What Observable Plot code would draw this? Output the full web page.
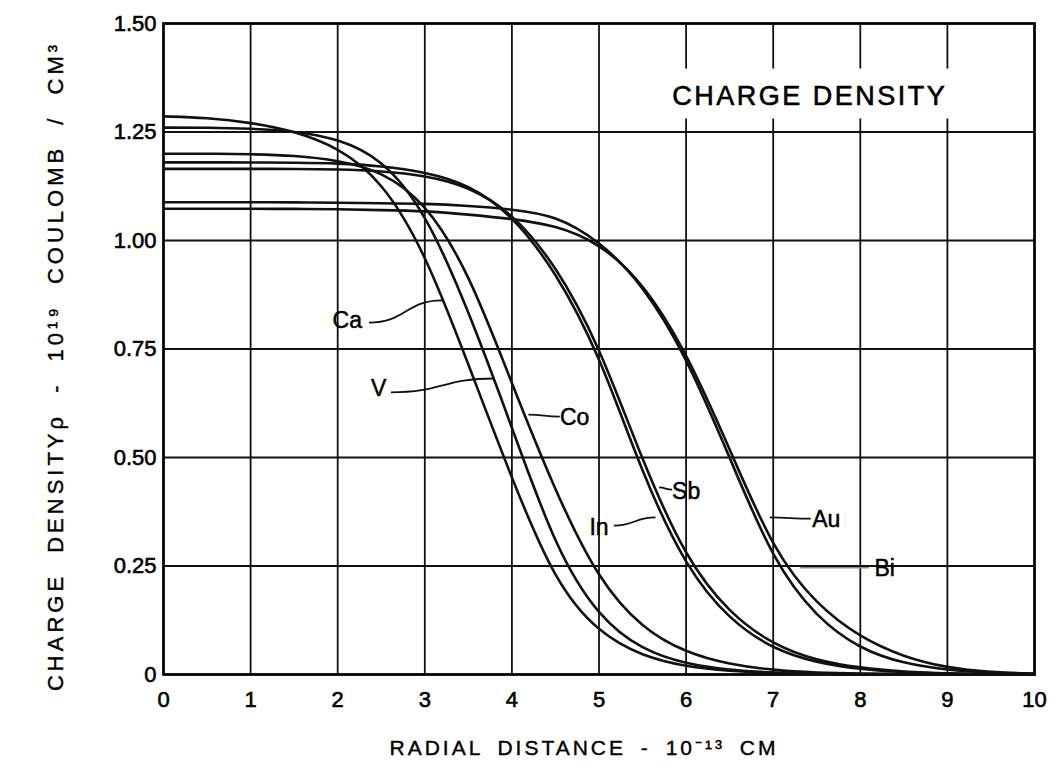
<!DOCTYPE html>
<html>
<head>
<meta charset="utf-8">
<script src="https://cdn.jsdelivr.net/npm/d3@7"></script>
<script src="https://cdn.jsdelivr.net/npm/@observablehq/plot@0.6"></script>
<style>
  body { margin: 0; background: #fff; }
  #chart svg { display: block; }
</style>
</head>
<body>
<div id="chart"></div>
<script>
// ---- data ----
const radius = [0,0.5,1,1.5,2,2.5,3,3.5,4,4.5,5,5.5,6,6.5,7,7.5,8,8.5,9,9.5,10];
const rhoCa = [1.286,1.283,1.272,1.252,1.215,1.14,0.975,0.715,0.45,0.21,0.095,0.042,0.018,0.008,0.003,0.001,0,0,0,0,0];
const rhoV  = [1.26,1.26,1.258,1.252,1.235,1.19,1.07,0.84,0.57,0.29,0.13,0.056,0.024,0.01,0.004,0.002,0.001,0,0,0,0];
const rhoCo = [1.20,1.20,1.199,1.196,1.185,1.16,1.09,0.93,0.67,0.42,0.215,0.105,0.05,0.023,0.01,0.004,0.002,0.001,0,0,0];
const rhoIn = [1.18,1.18,1.18,1.179,1.178,1.172,1.158,1.13,1.06,0.93,0.74,0.46,0.245,0.125,0.058,0.027,0.012,0.005,0.002,0.001,0];
const rhoSb = [1.165,1.165,1.165,1.165,1.164,1.16,1.15,1.125,1.065,0.945,0.76,0.49,0.265,0.14,0.068,0.032,0.015,0.006,0.002,0.001,0];
const rhoAu = [1.088,1.088,1.088,1.088,1.087,1.086,1.085,1.08,1.072,1.058,1.0,0.9,0.735,0.5,0.26,0.13,0.058,0.025,0.01,0.004,0.001];
const rhoBi = [1.073,1.073,1.073,1.073,1.072,1.07,1.068,1.06,1.05,1.035,0.995,0.905,0.745,0.52,0.285,0.16,0.085,0.04,0.015,0.005,0.002];

const seriesNames = ["Ca","V","Co","In","Sb","Au","Bi"];
const seriesValues = [rhoCa, rhoV, rhoCo, rhoIn, rhoSb, rhoAu, rhoBi];

// curve labels and their leader lines (data units)
const labelText = ["Ca","V","Co","In","Sb","Au","Bi"];
const labelX = [2.11, 2.47, 4.72, 5.0, 6.0, 7.61, 8.28];
const labelY = [0.816, 0.659, 0.592, 0.339, 0.422, 0.357, 0.244];
const leaderX1 = [2.36, 2.61, 4.55, 5.17, 5.84, 7.43, 8.10];
const leaderY1 = [0.811, 0.650, 0.594, 0.343, 0.426, 0.359, 0.246];
const leaderX2 = [3.20, 3.80, 4.19, 5.65, 5.69, 6.96, 7.31];
const leaderY2 = [0.862, 0.682, 0.599, 0.362, 0.431, 0.362, 0.246];
const leaderGray = [false, false, false, false, false, false, true];

const xTicks = [0,1,2,3,4,5,6,7,8,9,10];
const yTicks = [0,0.25,0.5,0.75,1.0,1.25,1.5];
const yTickLabels = ["0","0.25","0.50","0.75","1.00","1.25","1.50"];

const titleText = "CHARGE DENSITY";
const titleBox = {x1: 5.65, x2: 9.15, y1: 1.28, y2: 1.395};
const titlePos = {x: 7.42, y: 1.333};
const xLabel = "RADIAL DISTANCE - 10\u207B\u00B9\u00B3 CM";
const yLabel = "CHARGE DENSITY\u03C1 - 10\u00B9\u2079 COULOMB / CM\u00B3";

// ---- build tables ----
const rows = [];
seriesNames.forEach((n, i) => radius.forEach((r, j) => rows.push({name: n, x: r, y: seriesValues[i][j]})));
const labels = labelText.map((t, i) => ({t, x: labelX[i], y: labelY[i], x1: leaderX1[i], y1: leaderY1[i], x2: leaderX2[i], y2: leaderY2[i], gray: leaderGray[i]}));

const font = "'Liberation Sans', Arial, sans-serif";

const chart = Plot.plot({
  width: 1059,
  height: 771,
  marginLeft: 163,
  marginRight: 25,
  marginTop: 23,
  marginBottom: 97,
  style: {fontFamily: font, fontSize: "22px", color: "#000", background: "#fff", overflow: "visible"},
  x: {domain: [0, 10]},
  y: {domain: [0, 1.5]},
  marks: [
    Plot.gridX(xTicks, {stroke: "#111", strokeOpacity: 1, strokeWidth: 1.8}),
    Plot.gridY(yTicks, {stroke: "#111", strokeOpacity: 1, strokeWidth: 1.8}),
    Plot.rect([titleBox], {x1: "x1", x2: "x2", y1: "y1", y2: "y2", fill: "#fff"}),
    Plot.text([titlePos], {x: "x", y: "y", text: () => titleText, fontSize: 27, fill: "#000", stroke: "#000", strokeWidth: 0.6}),
    Plot.frame({stroke: "#000", strokeWidth: 2.6}),
    Plot.line(rows, {x: "x", y: "y", z: "name", curve: "basis", stroke: "#111", strokeWidth: 2.6}),
    Plot.link(labels, {x1: "x1", y1: "y1", x2: "x2", y2: "y2", curve: "bump-x", stroke: d => d.gray ? "#888" : "#111", strokeWidth: d => d.gray ? 1.4 : 1.8}),
    Plot.text(labels, {x: "x", y: "y", text: "t", fontSize: 23, fill: "#000", stroke: "#000", strokeWidth: 0.5}),
    Plot.axisX(xTicks, {tickSize: 0, tickPadding: 17, fontSize: 22, label: null, tickFormat: d => String(d)}),
    Plot.axisY(yTicks, {tickSize: 0, tickPadding: 7, fontSize: 22, label: null, tickFormat: d => yTickLabels[yTicks.indexOf(d)]}),
    Plot.text([xLabel], {frameAnchor: "bottom", dx: -15, dy: 80, text: d => d, fontSize: 21, fill: "#000", stroke: "#000", strokeWidth: 0.4}),
    Plot.text([yLabel], {frameAnchor: "left", dx: -108, dy: 17, rotate: -90, textAnchor: "middle", text: d => d, fontSize: 22, fill: "#000", stroke: "#000", strokeWidth: 0.4})
  ]
});
document.getElementById("chart").appendChild(chart);
// letter spacing and weight to mimic the hand lettering
chart.querySelectorAll("text").forEach(t => {
  const s = t.textContent;
  if (s === xLabel) { t.setAttribute("letter-spacing", "3"); t.setAttribute("word-spacing", "6"); }
  if (s === yLabel) { t.setAttribute("letter-spacing", "4"); t.setAttribute("word-spacing", "10"); }
  if (s === titleText) t.setAttribute("letter-spacing", "2.5");
});
chart.querySelectorAll('[aria-label$="tick label"] text').forEach(t => {
  t.setAttribute("stroke", "#000");
  t.setAttribute("stroke-width", "0.6");
});
</script>
</body>
</html>
